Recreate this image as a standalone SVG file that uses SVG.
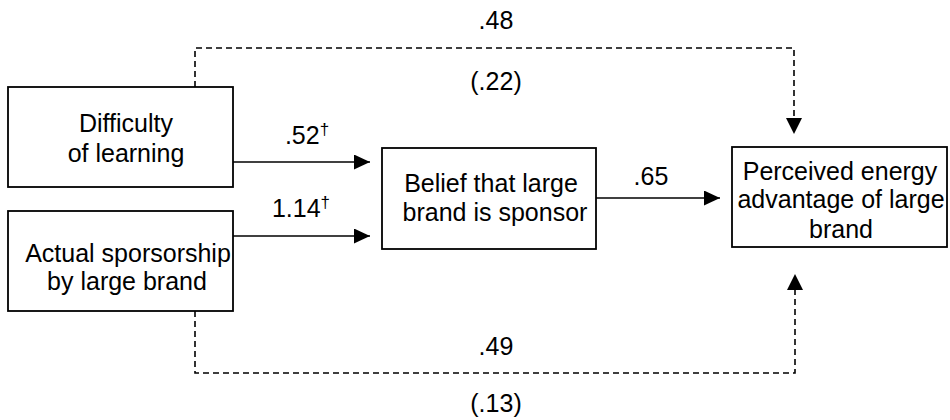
<svg xmlns="http://www.w3.org/2000/svg" width="950" height="420" viewBox="0 0 950 420">
<style>
text{font-family:"Liberation Sans",Arial,sans-serif;font-size:25px;fill:#000;text-anchor:middle}
.box{fill:#fff;stroke:#000;stroke-width:1.8}
.line{fill:none;stroke:#000;stroke-width:1.6}
.dash{fill:none;stroke:#000;stroke-width:1.6;stroke-dasharray:6,4}
.sup{font-size:17px}
</style>
<defs>
<marker id="arr" markerWidth="16" markerHeight="15" refX="16" refY="7.5" orient="auto" markerUnits="userSpaceOnUse">
<path d="M0,0 L16,7.5 L0,15 Z" fill="#000"/>
</marker>
</defs>
<rect width="950" height="420" fill="#fff"/>
<g id="connectors">
<line class="line" x1="233" y1="162" x2="370" y2="162" marker-end="url(#arr)"/>
<line class="line" x1="233" y1="236" x2="370" y2="236" marker-end="url(#arr)"/>
<line class="line" x1="596" y1="198" x2="720" y2="198" marker-end="url(#arr)"/>
<polyline class="dash" points="195,87 195,48 794,48 794,122"/>
<path d="M786,118 L802,118 L794,134 Z" fill="#000"/>
<polyline class="dash" points="195,311 195,373 795,373 795,289"/>
<path d="M787,290 L803,290 L795,274 Z" fill="#000"/>
<text x="496" y="29">.48</text>
<text x="496" y="90">(.22)</text>
<text x="307" y="144">.52<tspan class="sup" dy="-9">†</tspan></text>
<text x="301" y="217">1.14<tspan class="sup" dy="-9">†</tspan></text>
<text x="651" y="185">.65</text>
<text x="496" y="355">.49</text>
<text x="496" y="412">(.13)</text>
</g>
<g id="difficulty">
<rect class="box" x="8" y="87" width="225" height="100"/>
<text x="126" y="132">Difficulty</text>
<text x="126" y="162">of learning</text>
</g>
<g id="sponsorship">
<rect class="box" x="8" y="211" width="225" height="100"/>
<text x="128" y="262">Actual sporsorship</text>
<text x="127" y="290">by large brand</text>
</g>
<g id="belief">
<rect class="box" x="382" y="148" width="214" height="101"/>
<text x="491" y="192">Belief that large</text>
<text x="495" y="221">brand is sponsor</text>
</g>
<g id="perceived">
<rect class="box" x="732" y="147" width="215" height="100"/>
<text x="840" y="180">Perceived energy</text>
<text x="841" y="208">advantage of large</text>
<text x="841" y="238">brand</text>
</g>
</svg>
